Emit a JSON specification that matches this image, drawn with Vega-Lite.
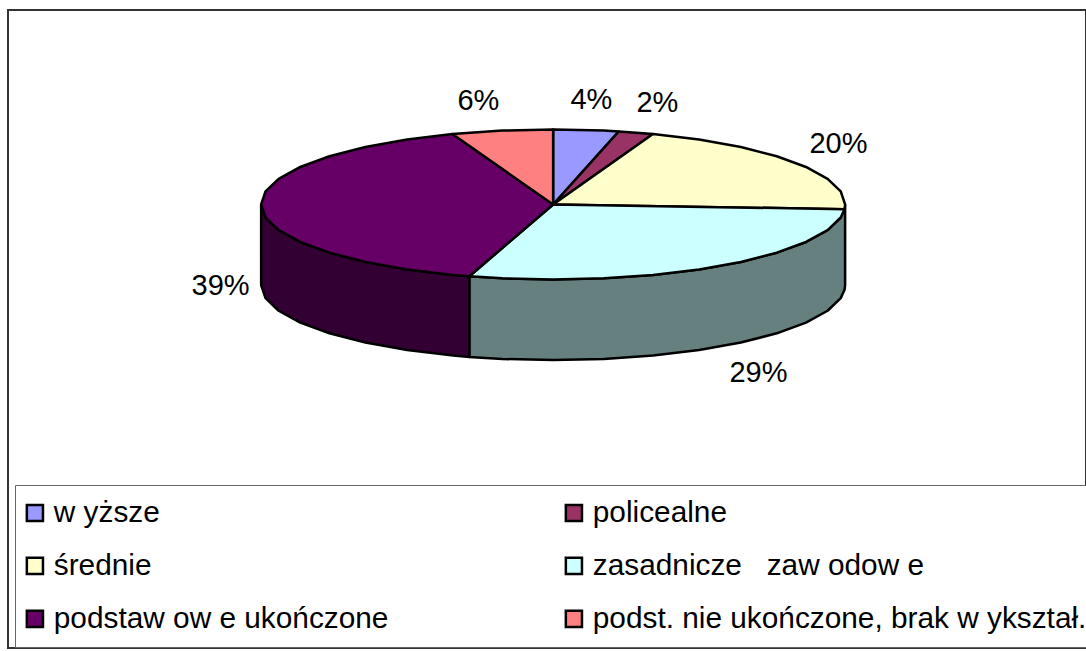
{"$schema":"https://vega.github.io/schema/vega-lite/v6.json","width":1078,"height":638,"autosize":{"type":"none"},"padding":{"left":8,"top":10,"right":0,"bottom":3},"background":"white","config":{"view":{"stroke":"#333333","strokeWidth":2},"font":"Liberation Sans"},"layer":[{"data":{"values":[
{"p":"side zasadnicze","i":1,"x":100,"y":0},{"p":"side zasadnicze","i":2,"x":99.8,"y":-6.3},{"p":"side zasadnicze","i":3,"x":98.5,"y":-17.4},{"p":"side zasadnicze","i":4,"x":94,"y":-34.2},{"p":"side zasadnicze","i":5,"x":86.6,"y":-50},{"p":"side zasadnicze","i":6,"x":76.6,"y":-64.3},{"p":"side zasadnicze","i":7,"x":64.3,"y":-76.6},{"p":"side zasadnicze","i":8,"x":50,"y":-86.6},{"p":"side zasadnicze","i":9,"x":34.2,"y":-94},{"p":"side zasadnicze","i":10,"x":17.4,"y":-98.5},{"p":"side zasadnicze","i":11,"x":0,"y":-100},{"p":"side zasadnicze","i":12,"x":-17.4,"y":-98.5},{"p":"side zasadnicze","i":13,"x":-28.7,"y":-95.8},{"p":"side zasadnicze","i":14,"x":-28.7,"y":-203.3},{"p":"side zasadnicze","i":15,"x":-17.4,"y":-206},{"p":"side zasadnicze","i":16,"x":0,"y":-207.5},{"p":"side zasadnicze","i":17,"x":17.4,"y":-206},{"p":"side zasadnicze","i":18,"x":34.2,"y":-201.5},{"p":"side zasadnicze","i":19,"x":50,"y":-194.1},{"p":"side zasadnicze","i":20,"x":64.3,"y":-184.1},{"p":"side zasadnicze","i":21,"x":76.6,"y":-171.8},{"p":"side zasadnicze","i":22,"x":86.6,"y":-157.5},{"p":"side zasadnicze","i":23,"x":94,"y":-141.7},{"p":"side zasadnicze","i":24,"x":98.5,"y":-124.9},{"p":"side zasadnicze","i":25,"x":99.8,"y":-113.8},{"p":"side zasadnicze","i":26,"x":100,"y":-107.5},{"p":"side zasadnicze","i":27,"x":100,"y":0},
{"p":"side podstawowe","i":1,"x":-28.7,"y":-95.8},{"p":"side podstawowe","i":2,"x":-34.2,"y":-94},{"p":"side podstawowe","i":3,"x":-50,"y":-86.6},{"p":"side podstawowe","i":4,"x":-64.3,"y":-76.6},{"p":"side podstawowe","i":5,"x":-76.6,"y":-64.3},{"p":"side podstawowe","i":6,"x":-86.6,"y":-50},{"p":"side podstawowe","i":7,"x":-94,"y":-34.2},{"p":"side podstawowe","i":8,"x":-98.5,"y":-17.4},{"p":"side podstawowe","i":9,"x":-100,"y":0},{"p":"side podstawowe","i":10,"x":-100,"y":-107.5},{"p":"side podstawowe","i":11,"x":-98.5,"y":-124.9},{"p":"side podstawowe","i":12,"x":-94,"y":-141.7},{"p":"side podstawowe","i":13,"x":-86.6,"y":-157.5},{"p":"side podstawowe","i":14,"x":-76.6,"y":-171.8},{"p":"side podstawowe","i":15,"x":-64.3,"y":-184.1},{"p":"side podstawowe","i":16,"x":-50,"y":-194.1},{"p":"side podstawowe","i":17,"x":-34.2,"y":-201.5},{"p":"side podstawowe","i":18,"x":-28.7,"y":-203.3},{"p":"side podstawowe","i":19,"x":-28.7,"y":-95.8},
{"p":"w yższe","i":1,"x":0,"y":0},{"p":"w yższe","i":2,"x":0,"y":100},{"p":"w yższe","i":3,"x":17.4,"y":98.5},{"p":"w yższe","i":4,"x":22.5,"y":97.4},{"p":"w yższe","i":5,"x":0,"y":0},
{"p":"policealne","i":1,"x":0,"y":0},{"p":"policealne","i":2,"x":22.5,"y":97.4},{"p":"policealne","i":3,"x":34.2,"y":94},{"p":"policealne","i":4,"x":0,"y":0},
{"p":"średnie","i":1,"x":0,"y":0},{"p":"średnie","i":2,"x":34.2,"y":94},{"p":"średnie","i":3,"x":50,"y":86.6},{"p":"średnie","i":4,"x":64.3,"y":76.6},{"p":"średnie","i":5,"x":76.6,"y":64.3},{"p":"średnie","i":6,"x":86.6,"y":50},{"p":"średnie","i":7,"x":94,"y":34.2},{"p":"średnie","i":8,"x":98.5,"y":17.4},{"p":"średnie","i":9,"x":100,"y":0},{"p":"średnie","i":10,"x":99.8,"y":-6.3},{"p":"średnie","i":11,"x":0,"y":0},
{"p":"zasadnicze   zaw odow e","i":1,"x":0,"y":0},{"p":"zasadnicze   zaw odow e","i":2,"x":99.8,"y":-6.3},{"p":"zasadnicze   zaw odow e","i":3,"x":98.5,"y":-17.4},{"p":"zasadnicze   zaw odow e","i":4,"x":94,"y":-34.2},{"p":"zasadnicze   zaw odow e","i":5,"x":86.6,"y":-50},{"p":"zasadnicze   zaw odow e","i":6,"x":76.6,"y":-64.3},{"p":"zasadnicze   zaw odow e","i":7,"x":64.3,"y":-76.6},{"p":"zasadnicze   zaw odow e","i":8,"x":50,"y":-86.6},{"p":"zasadnicze   zaw odow e","i":9,"x":34.2,"y":-94},{"p":"zasadnicze   zaw odow e","i":10,"x":17.4,"y":-98.5},{"p":"zasadnicze   zaw odow e","i":11,"x":0,"y":-100},{"p":"zasadnicze   zaw odow e","i":12,"x":-17.4,"y":-98.5},{"p":"zasadnicze   zaw odow e","i":13,"x":-28.7,"y":-95.8},{"p":"zasadnicze   zaw odow e","i":14,"x":0,"y":0},
{"p":"podstaw ow e ukończone","i":1,"x":0,"y":0},{"p":"podstaw ow e ukończone","i":2,"x":-28.7,"y":-95.8},{"p":"podstaw ow e ukończone","i":3,"x":-34.2,"y":-94},{"p":"podstaw ow e ukończone","i":4,"x":-50,"y":-86.6},{"p":"podstaw ow e ukończone","i":5,"x":-64.3,"y":-76.6},{"p":"podstaw ow e ukończone","i":6,"x":-76.6,"y":-64.3},{"p":"podstaw ow e ukończone","i":7,"x":-86.6,"y":-50},{"p":"podstaw ow e ukończone","i":8,"x":-94,"y":-34.2},{"p":"podstaw ow e ukończone","i":9,"x":-98.5,"y":-17.4},{"p":"podstaw ow e ukończone","i":10,"x":-100,"y":0},{"p":"podstaw ow e ukończone","i":11,"x":-98.5,"y":17.4},{"p":"podstaw ow e ukończone","i":12,"x":-94,"y":34.2},{"p":"podstaw ow e ukończone","i":13,"x":-86.6,"y":50},{"p":"podstaw ow e ukończone","i":14,"x":-76.6,"y":64.3},{"p":"podstaw ow e ukończone","i":15,"x":-64.3,"y":76.6},{"p":"podstaw ow e ukończone","i":16,"x":-50,"y":86.6},{"p":"podstaw ow e ukończone","i":17,"x":-34.5,"y":93.9},{"p":"podstaw ow e ukończone","i":18,"x":0,"y":0},
{"p":"podst. nie ukończone, brak w ykształ.","i":1,"x":0,"y":0},{"p":"podst. nie ukończone, brak w ykształ.","i":2,"x":-34.5,"y":93.9},{"p":"podst. nie ukończone, brak w ykształ.","i":3,"x":-17.4,"y":98.5},{"p":"podst. nie ukończone, brak w ykształ.","i":4,"x":0,"y":100},{"p":"podst. nie ukończone, brak w ykształ.","i":5,"x":0,"y":0}
]},"mark":{"type":"line","filled":true,"stroke":"black","strokeWidth":2.5,"strokeJoin":"round","interpolate":"linear"},"encoding":{"x":{"field":"x","type":"quantitative","scale":{"domain":[-186.7,182.5],"nice":false,"zero":false},"axis":null},"y":{"field":"y","type":"quantitative","scale":{"domain":[-591.4,259.3],"nice":false,"zero":false},"axis":null},"order":{"field":"i","type":"quantitative"},"fill":{"field":"p","type":"nominal","scale":{"domain":["w yższe","policealne","średnie","zasadnicze   zaw odow e","podstaw ow e ukończone","podst. nie ukończone, brak w ykształ.","side zasadnicze","side podstawowe"],"range":["#9999FF","#993366","#FFFFCC","#CCFFFF","#660066","#FF8080","#668080","#330033"]},"legend":{"values":["w yższe","policealne","średnie","zasadnicze   zaw odow e","podstaw ow e ukończone","podst. nie ukończone, brak w ykształ."],"title":null,"orient":"none","direction":"horizontal","legendX":7,"legendY":475,"columns":2,"columnPadding":171,"rowPadding":22,"padding":13,"strokeColor":"#666666","fillColor":"white","symbolType":"square","symbolSize":260,"symbolOffset":-8,"symbolStrokeColor":"black","symbolStrokeWidth":2.5,"symbolOpacity":1,"labelFont":"Liberation Sans","labelFontSize":29.8,"labelColor":"black","labelOffset":4,"labelLimit":700,"labelExpr":"datum.label === 'zasadnicze   zaw odow e' ? 'zasadnicze \u00a0\u00a0zaw odow e' : datum.label"}}}},{"data":{"values":[{"t":"6%","x":-25.6,"y":137.4},{"t":"4%","x":13.1,"y":138.7},{"t":"2%","x":35.7,"y":134.7},{"t":"20%","x":97.7,"y":80},{"t":"29%","x":70.3,"y":-225.3},{"t":"39%","x":-113.9,"y":-109.3}]},"mark":{"type":"text","font":"Liberation Sans","fontSize":29,"color":"black","align":"center","baseline":"middle"},"encoding":{"x":{"field":"x","type":"quantitative"},"y":{"field":"y","type":"quantitative"},"text":{"field":"t","type":"nominal"}}}]}
